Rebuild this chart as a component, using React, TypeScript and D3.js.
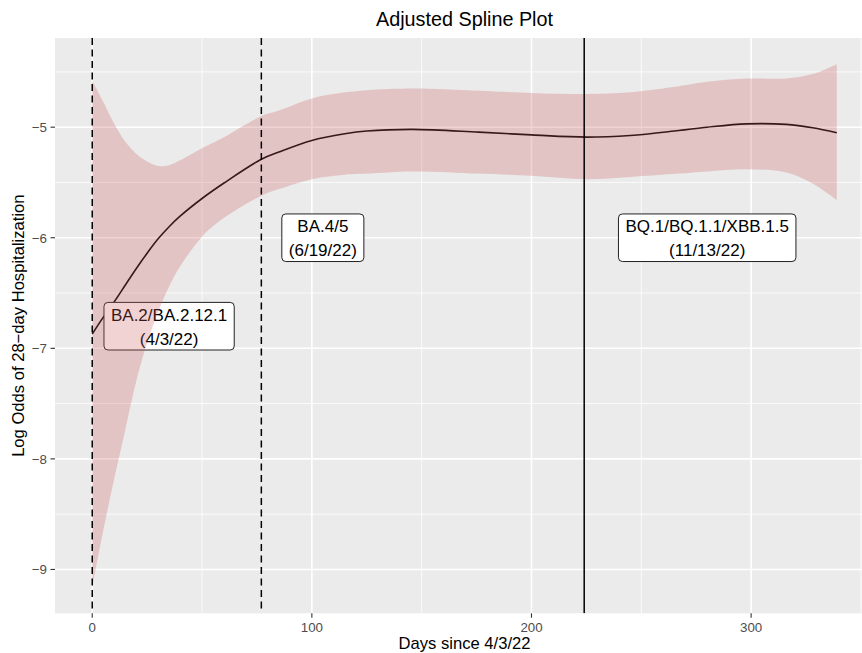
import * as d3 from "d3";

// values
const days = [0, 5, 10, 15, 20, 25, 30, 35, 40, 50, 60, 77, 85, 100, 115, 125, 146, 176, 200, 225, 245, 267, 280, 298, 316, 328, 339];
const fitValues = [-6.87, -6.72, -6.58, -6.43, -6.28, -6.14, -6.01, -5.9, -5.805, -5.645, -5.505, -5.29, -5.225, -5.12, -5.06, -5.035, -5.02, -5.045, -5.07, -5.09, -5.075, -5.03, -5.0, -4.97, -4.975, -5.005, -5.05];
const upperValues = [-4.58, -4.77, -4.97, -5.13, -5.24, -5.31, -5.35, -5.345, -5.3, -5.19, -5.09, -4.9, -4.85, -4.74, -4.685, -4.665, -4.65, -4.67, -4.69, -4.7, -4.685, -4.63, -4.59, -4.56, -4.56, -4.52, -4.43];
const lowerValues = [-9.16, -8.65, -8.18, -7.74, -7.3, -6.95, -6.67, -6.44, -6.26, -5.99, -5.82, -5.62, -5.56, -5.47, -5.43, -5.42, -5.4, -5.42, -5.44, -5.47, -5.45, -5.42, -5.4, -5.38, -5.41, -5.51, -5.66];

const variantDays = [0, 77, 224];
const variantDashed = [true, true, false];
const labelDays = [35, 105, 280];
const labelLogOdds = [-6.8, -6.0, -6.0];
const labelText = [
    ["BA.2/BA.2.12.1", "(4/3/22)"],
    ["BA.4/5", "(6/19/22)"],
    ["BQ.1/BQ.1.1/XBB.1.5", "(11/13/22)"],
];

const xMajor = [0, 100, 200, 300];
const xMinor = [50, 150, 250, 350];
const yMajor = [-9, -8, -7, -6, -5];
const yMinor = [-8.5, -7.5, -6.5, -5.5, -4.5];

const W = 862;
const H = 653;
const FONT = '"Liberation Sans", Arial, Helvetica, sans-serif';
const margin = { left: 55, top: 38, right: 874, bottom: 613.3 };

let measureCtx: CanvasRenderingContext2D | null = null;
function textWidth(s: string, size: number) {
    if (!measureCtx) {
        measureCtx = document.createElement("canvas").getContext("2d");
    }
    if (!measureCtx) return s.length * size * 0.55;
    measureCtx.font = `${size}px ${FONT}`;
    return measureCtx.measureText(s).width;
}

function Label({ x, y, lines }: { x: number; y: number; lines: string[] }) {
    const size = 17;
    const w = Math.max(...lines.map(l => textWidth(l, size))) + 14;
    const h = 47.6;
    return (
        <g transform={`translate(${x}, ${y})`}>
            <rect x={-w / 2} y={-h / 2} width={w} height={h} rx={4} ry={4}
                fill="white" stroke="#222" strokeWidth={1} />
            <text textAnchor="middle" style={{ fontFamily: FONT, fontSize: size, fill: "black" }}>
                <tspan x={0} y={-5.3}>{lines[0]}</tspan>
                <tspan x={0} y={18.7}>{lines[1]}</tspan>
            </text>
        </g>
    );
}

export default function App() {
    const xRange = d3.extent(days) as [number, number];
    const xPad = (xRange[1] - xRange[0]) * 0.05;
    const x = d3.scaleLinear()
        .domain([xRange[0] - xPad, xRange[1] + xPad])
        .range([margin.left, margin.right]);

    const yLo = d3.min(lowerValues) as number;
    const yHi = d3.max(upperValues) as number;
    const yPad = (yHi - yLo) * 0.05;
    const y = d3.scaleLinear()
        .domain([yLo - yPad, yHi + yPad])
        .range([margin.bottom, margin.top]);

    const rows = days.map((d, i) => ({ d, fit: fitValues[i], lo: lowerValues[i], hi: upperValues[i] }));

    const area = d3.area<typeof rows[0]>()
        .x(r => x(r.d))
        .y0(r => y(r.lo))
        .y1(r => y(r.hi))
        .curve(d3.curveCatmullRom.alpha(0.5));

    const line = d3.line<typeof rows[0]>()
        .x(r => x(r.d))
        .y(r => y(r.fit))
        .curve(d3.curveCatmullRom.alpha(0.5));

    const pw = margin.right - margin.left;
    const ph = margin.bottom - margin.top;
    const cx = (margin.left + margin.right) / 2;
    const cy = (margin.top + margin.bottom) / 2;

    return (
        <svg width={W} height={H} style={{ position: "absolute", left: 0, top: 0, background: "white" }}>
            <defs>
                <clipPath id="panel">
                    <rect x={margin.left} y={margin.top} width={pw} height={ph} />
                </clipPath>
            </defs>

            <rect x={margin.left} y={margin.top} width={pw} height={ph} fill="#EBEBEB" />

            <g clipPath="url(#panel)">
                {yMinor.map(v => (
                    <line key={`ym${v}`} x1={margin.left} x2={margin.right} y1={y(v)} y2={y(v)} stroke="white" strokeWidth={0.8} />
                ))}
                {xMinor.map(v => (
                    <line key={`xm${v}`} y1={margin.top} y2={margin.bottom} x1={x(v)} x2={x(v)} stroke="white" strokeWidth={0.8} />
                ))}
                {yMajor.map(v => (
                    <line key={`yM${v}`} x1={margin.left} x2={margin.right} y1={y(v)} y2={y(v)} stroke="white" strokeWidth={1.6} />
                ))}
                {xMajor.map(v => (
                    <line key={`xM${v}`} y1={margin.top} y2={margin.bottom} x1={x(v)} x2={x(v)} stroke="white" strokeWidth={1.6} />
                ))}

                <path d={line(rows) || ""} fill="none" stroke="black" strokeWidth={1.6} />

                {labelDays.map((d, i) => (
                    <Label key={i} x={x(d)} y={y(labelLogOdds[i])} lines={labelText[i]} />
                ))}

                <path d={area(rows) || ""} fill="#cd5c5c" fillOpacity={0.27} />

                {variantDays.map((d, i) => (
                    <line key={`v${d}`} x1={x(d)} x2={x(d)} y1={margin.top} y2={margin.bottom}
                        stroke="black" strokeWidth={1.5}
                        strokeDasharray={variantDashed[i] ? "7 4.5" : undefined} />
                ))}
            </g>

            {/* axes */}
            {yMajor.map(v => (
                <g key={`yt${v}`}>
                    <line x1={50.5} x2={margin.left} y1={y(v)} y2={y(v)} stroke="#333" strokeWidth={1.1} />
                    <text x={47} y={y(v)} dy="0.36em" textAnchor="end"
                        style={{ fontFamily: FONT, fontSize: 13.3, fill: "#4D4D4D" }}>
                        {`\u2212${Math.abs(v)}`}
                    </text>
                </g>
            ))}
            {xMajor.map(v => (
                <g key={`xt${v}`}>
                    <line x1={x(v)} x2={x(v)} y1={margin.bottom} y2={margin.bottom + 4.5} stroke="#333" strokeWidth={1.1} />
                    <text x={x(v)} y={631.5} textAnchor="middle"
                        style={{ fontFamily: FONT, fontSize: 13.3, fill: "#4D4D4D" }}>
                        {v}
                    </text>
                </g>
            ))}

            <text x={cx} y={26} textAnchor="middle" style={{ fontFamily: FONT, fontSize: 19.8, fill: "black" }}>
                Adjusted Spline Plot
            </text>
            <text x={cx} y={648.5} textAnchor="middle" style={{ fontFamily: FONT, fontSize: 16.6, fill: "black" }}>
                Days since 4/3/22
            </text>
            <text transform={`translate(24, ${cy}) rotate(-90)`} textAnchor="middle"
                style={{ fontFamily: FONT, fontSize: 16.6, fill: "black" }}>
                {"Log Odds of 28\u2212day Hospitalization"}
            </text>
        </svg>
    );
}
